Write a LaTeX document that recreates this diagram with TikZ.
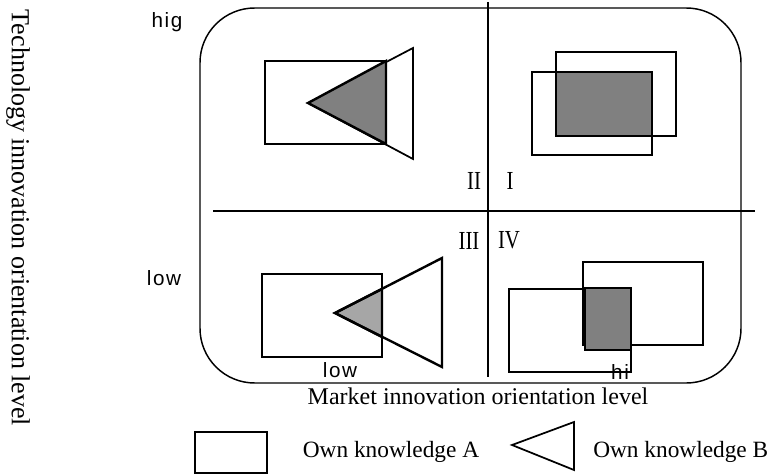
\documentclass[tikz,border=0pt]{standalone}
\usepackage{fontspec}
\setmainfont{Liberation Serif}
\newfontfamily\ticksans[LetterSpace=8]{Liberation Sans}
\newfontfamily\numfont[FakeStretch=0.8]{Liberation Serif}
\usetikzlibrary{positioning}
\definecolor{Ink}{HTML}{000000}
\definecolor{Shade}{HTML}{808080}
\definecolor{LightShade}{HTML}{A6A6A6}
\tikzset{
  frame/.style={draw=Ink,line width=1.1pt,rounded corners=41pt},
  axisline/.style={draw=Ink,line width=1.2pt},
  knowA/.style={draw=Ink,line width=1.3pt},
  knowB/.style={draw=Ink,line width=1.3pt,line join=miter},
  overlap/.style={fill=Shade,draw=Ink,line width=1.8pt},
  lightlap/.style={overlap,fill=LightShade},
  tick/.style={font=\ticksans\fontsize{15.5}{17}\selectfont,inner sep=0pt},
  quad/.style={font=\numfont\fontsize{19.5}{21}\selectfont,inner sep=0pt},
  axlabel/.style={font=\fontsize{18}{20}\selectfont,inner sep=0pt},
  legend/.style={font=\fontsize{17.5}{20}\selectfont,inner sep=0pt}
}

\begin{document}
\begin{tikzpicture}[x=0.75pt,y=-0.75pt]
  \useasboundingbox (0,0) rectangle (773,474);

  \draw[frame] (200,8) rectangle (741,383);
  \coordinate (vtop) at (488,2);
  \coordinate (vbot) at (488,377);
  \coordinate (hleft) at (213,211);
  \coordinate (hright) at (755,211);
  \draw[axisline] (vtop)--(vbot);
  \draw[axisline] (hleft)--(hright);

  % quadrant II
  \draw[knowA] (265,61) rectangle (386,144);
  \draw[knowB] (308,103)--(413,48)--(413,159)--cycle;
  \draw[overlap] (308,103)--(386,61)--(386,144)--cycle;

  % quadrant I
  \draw[knowA] (556,52) rectangle (676,136);
  \draw[knowA] (532,72) rectangle (652,155);
  \draw[overlap] (556,72) rectangle (652,136);

  % quadrant III
  \draw[knowA] (262,274) rectangle (382,357);
  \draw[lightlap] (335,313)--(382,289)--(382,337)--cycle;
  \draw[knowB,line width=1.8pt] (335,313)--(442,258)--(442,367)--cycle;

  % quadrant IV
  \draw[knowA] (583,262) rectangle (703,345);
  \draw[knowA] (509,289) rectangle (631,372);
  \draw[overlap] (585,288) rectangle (631,350);

  \node[tick] (hig) at (167,22) {hig};
  \node[tick] (lowy) at (164,278) {low};
  \node[tick] (lowx) at (340,370) {low};
  \node[tick] (hix) at (620,372) {hi};

  \node[quad] (q2) at (474,181) {II};
  \node[quad] (q1) at (510,181) {I};
  \node[quad] (q3) at (469,241) {III};
  \node[quad] (q4) at (509,240) {IV};

  \node[axlabel,font=\fontsize{19.5}{22}\selectfont,rotate=-90] (ylab) at (18,218) {Technology innovation orientation level};
  \node[axlabel] (xlab) at (478,396) {Market innovation orientation level};

  \draw[knowA] (195,432) rectangle (267,473);
  \node[legend] (legA) at (391,452) {Own knowledge A};
  \draw[knowB] (512,445)--(574,422)--(574,470)--cycle;
  \node[legend,anchor=west] (legB) at (593,452) {Own knowledge B};
\end{tikzpicture}
\end{document}
